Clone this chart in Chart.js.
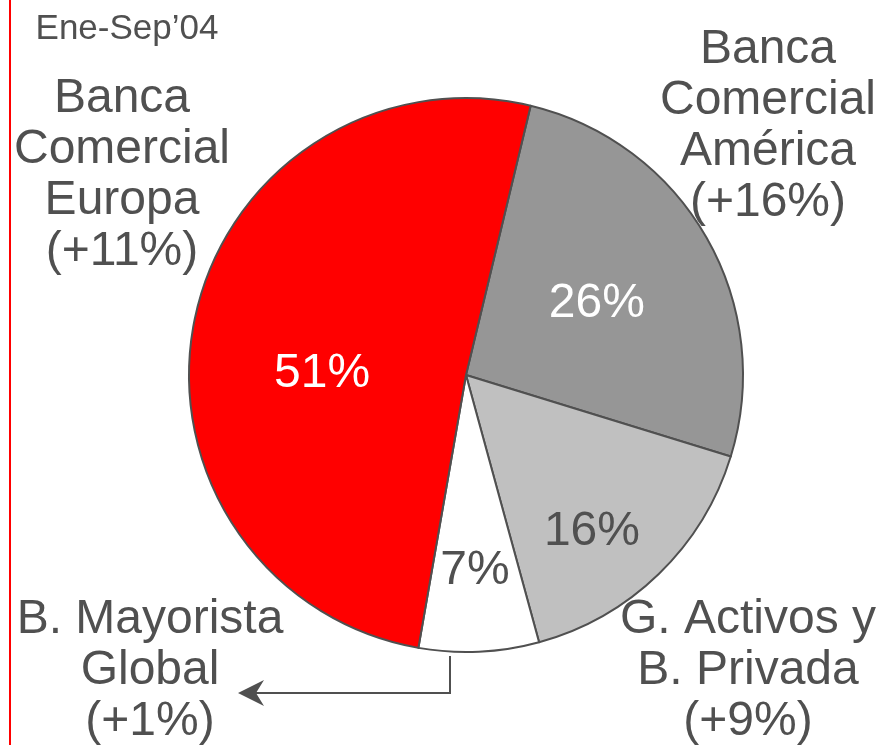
<!DOCTYPE html>
<html>
<head>
<meta charset="utf-8">
<script src="https://cdn.jsdelivr.net/npm/chart.js@4"></script>
<style>
  html, body { margin: 0; padding: 0; background: #fff; }
  #wrap { position: relative; width: 880px; height: 745px; }
</style>
</head>
<body>
<div id="wrap"><canvas id="pie" width="880" height="745"></canvas></div>
<script>
// datos Ene-Sep'04
const periodo = 'Ene-Sep\u201904';
const segmentos = ['Banca Comercial América', 'G. Activos y B. Privada', 'B. Mayorista Global', 'Banca Comercial Europa'];
const lineas = [['Banca', 'Comercial', 'América'], ['G. Activos y', 'B. Privada'], ['B. Mayorista', 'Global'], ['Banca', 'Comercial', 'Europa']];
const peso = [26, 16, 7, 51];
const crecimiento = ['+16%', '+9%', '+1%', '+11%'];
const colores = ['#969696', '#c0c0c0', '#ffffff', '#ff0000'];

const GRIS = '#505050';
const FONT = '"Liberation Sans", Arial, sans-serif';

// posiciones de las etiquetas externas (x centro, baseline de la primera linea)
const posExt = [[768, 63], [748, 633], [150, 633], [122, 112]];
// etiquetas dentro de cada porción: [distancia, ángulo desde arriba]
const posInt = [[151, 60], [198, 140.5], [192, 177.3], [144, 272]];
const colInt = ['#ffffff', GRIS, GRIS, '#ffffff'];

const textos = {
    id: 'textos',
    afterDraw(chart) {
        const ctx = chart.ctx;
        const arcs = chart.getDatasetMeta(0).data;
        ctx.save();

        // linea roja izquierda
        ctx.strokeStyle = '#ff0000';
        ctx.lineWidth = 2;
        ctx.beginPath();
        ctx.moveTo(10, 0);
        ctx.lineTo(10, 745);
        ctx.stroke();

        ctx.fillStyle = GRIS;
        ctx.textAlign = 'center';
        ctx.textBaseline = 'alphabetic';
        ctx.font = '35px ' + FONT;
        ctx.fillText(periodo, 127, 39);

        ctx.font = '48px ' + FONT;
        lineas.forEach((ls, i) => {
            const [x, y] = posExt[i];
            const todas = ls.concat(['(' + crecimiento[i] + ')']);
            todas.forEach((t, j) => ctx.fillText(t, x, y + j * 51));
        });

        // porcentajes
        arcs.forEach((arc, i) => {
            const [r, a] = posInt[i];
            const rad = a * Math.PI / 180;
            const x = arc.x + r * Math.sin(rad);
            const y = arc.y - r * Math.cos(rad);
            ctx.fillStyle = colInt[i];
            ctx.fillText(peso[i] + '%', x, y + 17);
        });

        // flecha hacia B. Mayorista Global
        ctx.strokeStyle = GRIS;
        ctx.fillStyle = GRIS;
        ctx.lineWidth = 2;
        ctx.beginPath();
        ctx.moveTo(450, 656);
        ctx.lineTo(450, 693);
        ctx.lineTo(254, 693);
        ctx.stroke();
        ctx.beginPath();
        ctx.moveTo(238, 693);
        ctx.lineTo(264, 680);
        ctx.lineTo(256, 693);
        ctx.lineTo(264, 706);
        ctx.closePath();
        ctx.fill();
        ctx.restore();
    }
};

new Chart(document.getElementById('pie').getContext('2d'), {
    type: 'pie',
    data: {
        labels: segmentos,
        datasets: [{
            data: peso,
            backgroundColor: colores,
            borderColor: GRIS,
            borderWidth: 2,
            borderJoinStyle: 'round'
        }]
    },
    options: {
        responsive: false,
        animation: false,
        rotation: 13.5,
        radius: 277,
        layout: { padding: { left: 189, right: 137, top: 98, bottom: 93 } },
        plugins: {
            legend: { display: false },
            tooltip: { enabled: false }
        }
    },
    plugins: [textos]
});
</script>
</body>
</html>
